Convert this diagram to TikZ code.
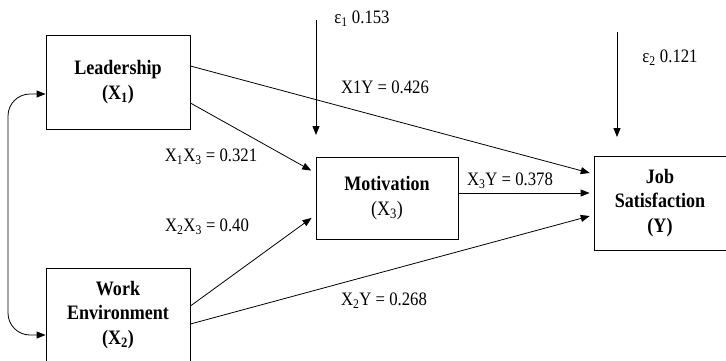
\documentclass[tikz,border=0pt]{standalone}
\usepackage{fontspec}
\setmainfont{Liberation Serif}[FakeStretch=0.88]
\usetikzlibrary{arrows.meta}

\tikzset{
  varbox/.style={draw, line width=0.8pt, inner sep=0pt, align=center,
    font=\fontsize{20.5}{24.5}\selectfont\bfseries},
  link/.style={line width=0.8pt, -{Triangle[length=9pt,width=7pt]}},
  coef/.style={font=\fontsize{19}{21}\selectfont}
}

\begin{document}
\begin{tikzpicture}[x=1pt,y=1pt]
        \useasboundingbox (0,0) rectangle (726,360);
        \node[varbox, minimum width=144pt, minimum height=94pt] (lead) at (118,278) {Leadership\\(X\textsubscript{1})};
        \node[varbox, minimum width=144pt, minimum height=94pt] (work) at (118,45) {Work\\Environment\\(X\textsubscript{2})};
        \node[varbox, minimum width=142pt, minimum height=82pt] (mot) at (387,162) {Motivation\\{\mdseries(X\textsubscript{3})}};
        \node[varbox, minimum width=132pt, minimum height=94pt] (job) at (660,157) {Job\\Satisfaction\\(Y)};
        \coordinate (e1a) at (316,340);
        \coordinate (e1b) at (316,225);
        \coordinate (e2a) at (617,328);
        \coordinate (e2b) at (617,223);
        \draw[link] (e1a) -- (e1b);
        \draw[link] (e2a) -- (e2b);
        \draw[link, shorten >=4pt] ([yshift=16pt]lead.east) -- ([yshift=29pt]job.west);
        \draw[link, shorten >=5pt] ([yshift=-21pt]lead.east) -- ([yshift=25pt]mot.west);
        \draw[link, shorten >=5pt] ([yshift=9pt]work.east) -- ([yshift=-17pt]mot.west);
        \draw[link, shorten >=4pt] ([yshift=-9pt]work.east) -- ([yshift=-12pt]job.west);
        \draw[link, shorten >=4pt] ([yshift=5pt]mot.east) coordinate (m3) -- (m3 -| job.west);
        \draw[link, {Triangle[length=9pt,width=7pt]}-{Triangle[length=9pt,width=7pt]}, rounded corners=22pt]
          ([yshift=-12pt]lead.west) -- (8,266) -- (8,25) -- ([yshift=-20pt]work.west);
        \node[coef] (e1lab) at (362,341) {ε\textsubscript{1} 0.153};
        \node[coef] (e2lab) at (670,302) {ε\textsubscript{2} 0.121};
        \node[coef] (x1y) at (385,273) {X1Y = 0.426};
        \node[coef] (x1x3) at (211,203) {X\textsubscript{1}X\textsubscript{3} = 0.321};
        \node[coef] (x2x3) at (207,133) {X\textsubscript{2}X\textsubscript{3} = 0.40};
        \node[coef] (x3y) at (510,179) {X\textsubscript{3}Y = 0.378};
        \node[coef] (x2y) at (384,59) {X\textsubscript{2}Y = 0.268};
      \end{tikzpicture}
\end{document}
